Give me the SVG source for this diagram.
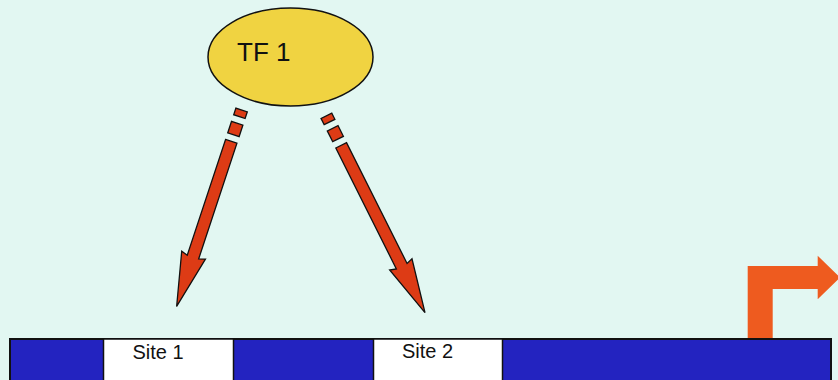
<svg xmlns="http://www.w3.org/2000/svg" width="838" height="380" viewBox="0 0 838 380">
  <style>
    .label { font-family: "Liberation Sans", Arial, sans-serif; fill: #111; }
    .bind { fill: #DD3B15; stroke: #111; stroke-width: 1.3; stroke-linejoin: miter; }
    .site { fill: #FFFFFF; stroke: #111; stroke-width: 1.5; }
  </style>

  <!-- backdrop -->
  <rect x="0" y="0" width="838" height="380" fill="#E2F7F2"/>

  <!-- transcription factor -->
  <g id="tf1">
    <ellipse cx="290.5" cy="57" rx="82.5" ry="49" fill="#F0D341" stroke="#111" stroke-width="1.5"/>
    <text class="label" x="237" y="61" font-size="26">TF 1</text>
  </g>

  <!-- transcription start (bent promoter arrow) -->
  <g id="promoter">
    <polygon points="747.7,340 747.7,266 817.7,266 817.7,255.7 840,277.5 817.7,299.3 817.7,289 772.7,289 772.7,340" fill="#EE5B1F"/>
  </g>

  <!-- DNA strand -->
  <g id="dna">
    <rect x="10" y="339" width="821" height="45" fill="#2323C0" stroke="#111" stroke-width="2"/>
  </g>

  <g id="site1">
    <rect class="site" x="103.5" y="339" width="130" height="45"/>
    <text class="label" x="158" y="359" font-size="20" text-anchor="middle">Site 1</text>
  </g>

  <g id="site2">
    <rect class="site" x="373.5" y="339" width="129" height="45"/>
    <text class="label" x="427.5" y="358" font-size="20" text-anchor="middle">Site 2</text>
  </g>

  <!-- binding arrows: broken tail, then shaft and head, drawn along +y and rotated -->
  <g id="connectors">
    <g transform="translate(241.6,110) rotate(18.3)">
      <rect class="bind" x="-6" y="0" width="12" height="7"/>
      <rect class="bind" x="-6" y="14" width="12" height="12"/>
      <path class="bind" d="M -6 33 L 6 33 L 6 154.9 L 12.5 152.9 L 0 206.9 L -12.5 152.9 L -6 154.9 Z"/>
    </g>
    <g transform="translate(326.4,115.8) rotate(-26.6)">
      <rect class="bind" x="-6" y="0" width="12" height="7"/>
      <rect class="bind" x="-6" y="14" width="12" height="12"/>
      <path class="bind" d="M -6 33 L 6 33 L 6 168.2 L 12.5 166.2 L 0 220.2 L -12.5 166.2 L -6 168.2 Z"/>
    </g>
  </g>
</svg>
